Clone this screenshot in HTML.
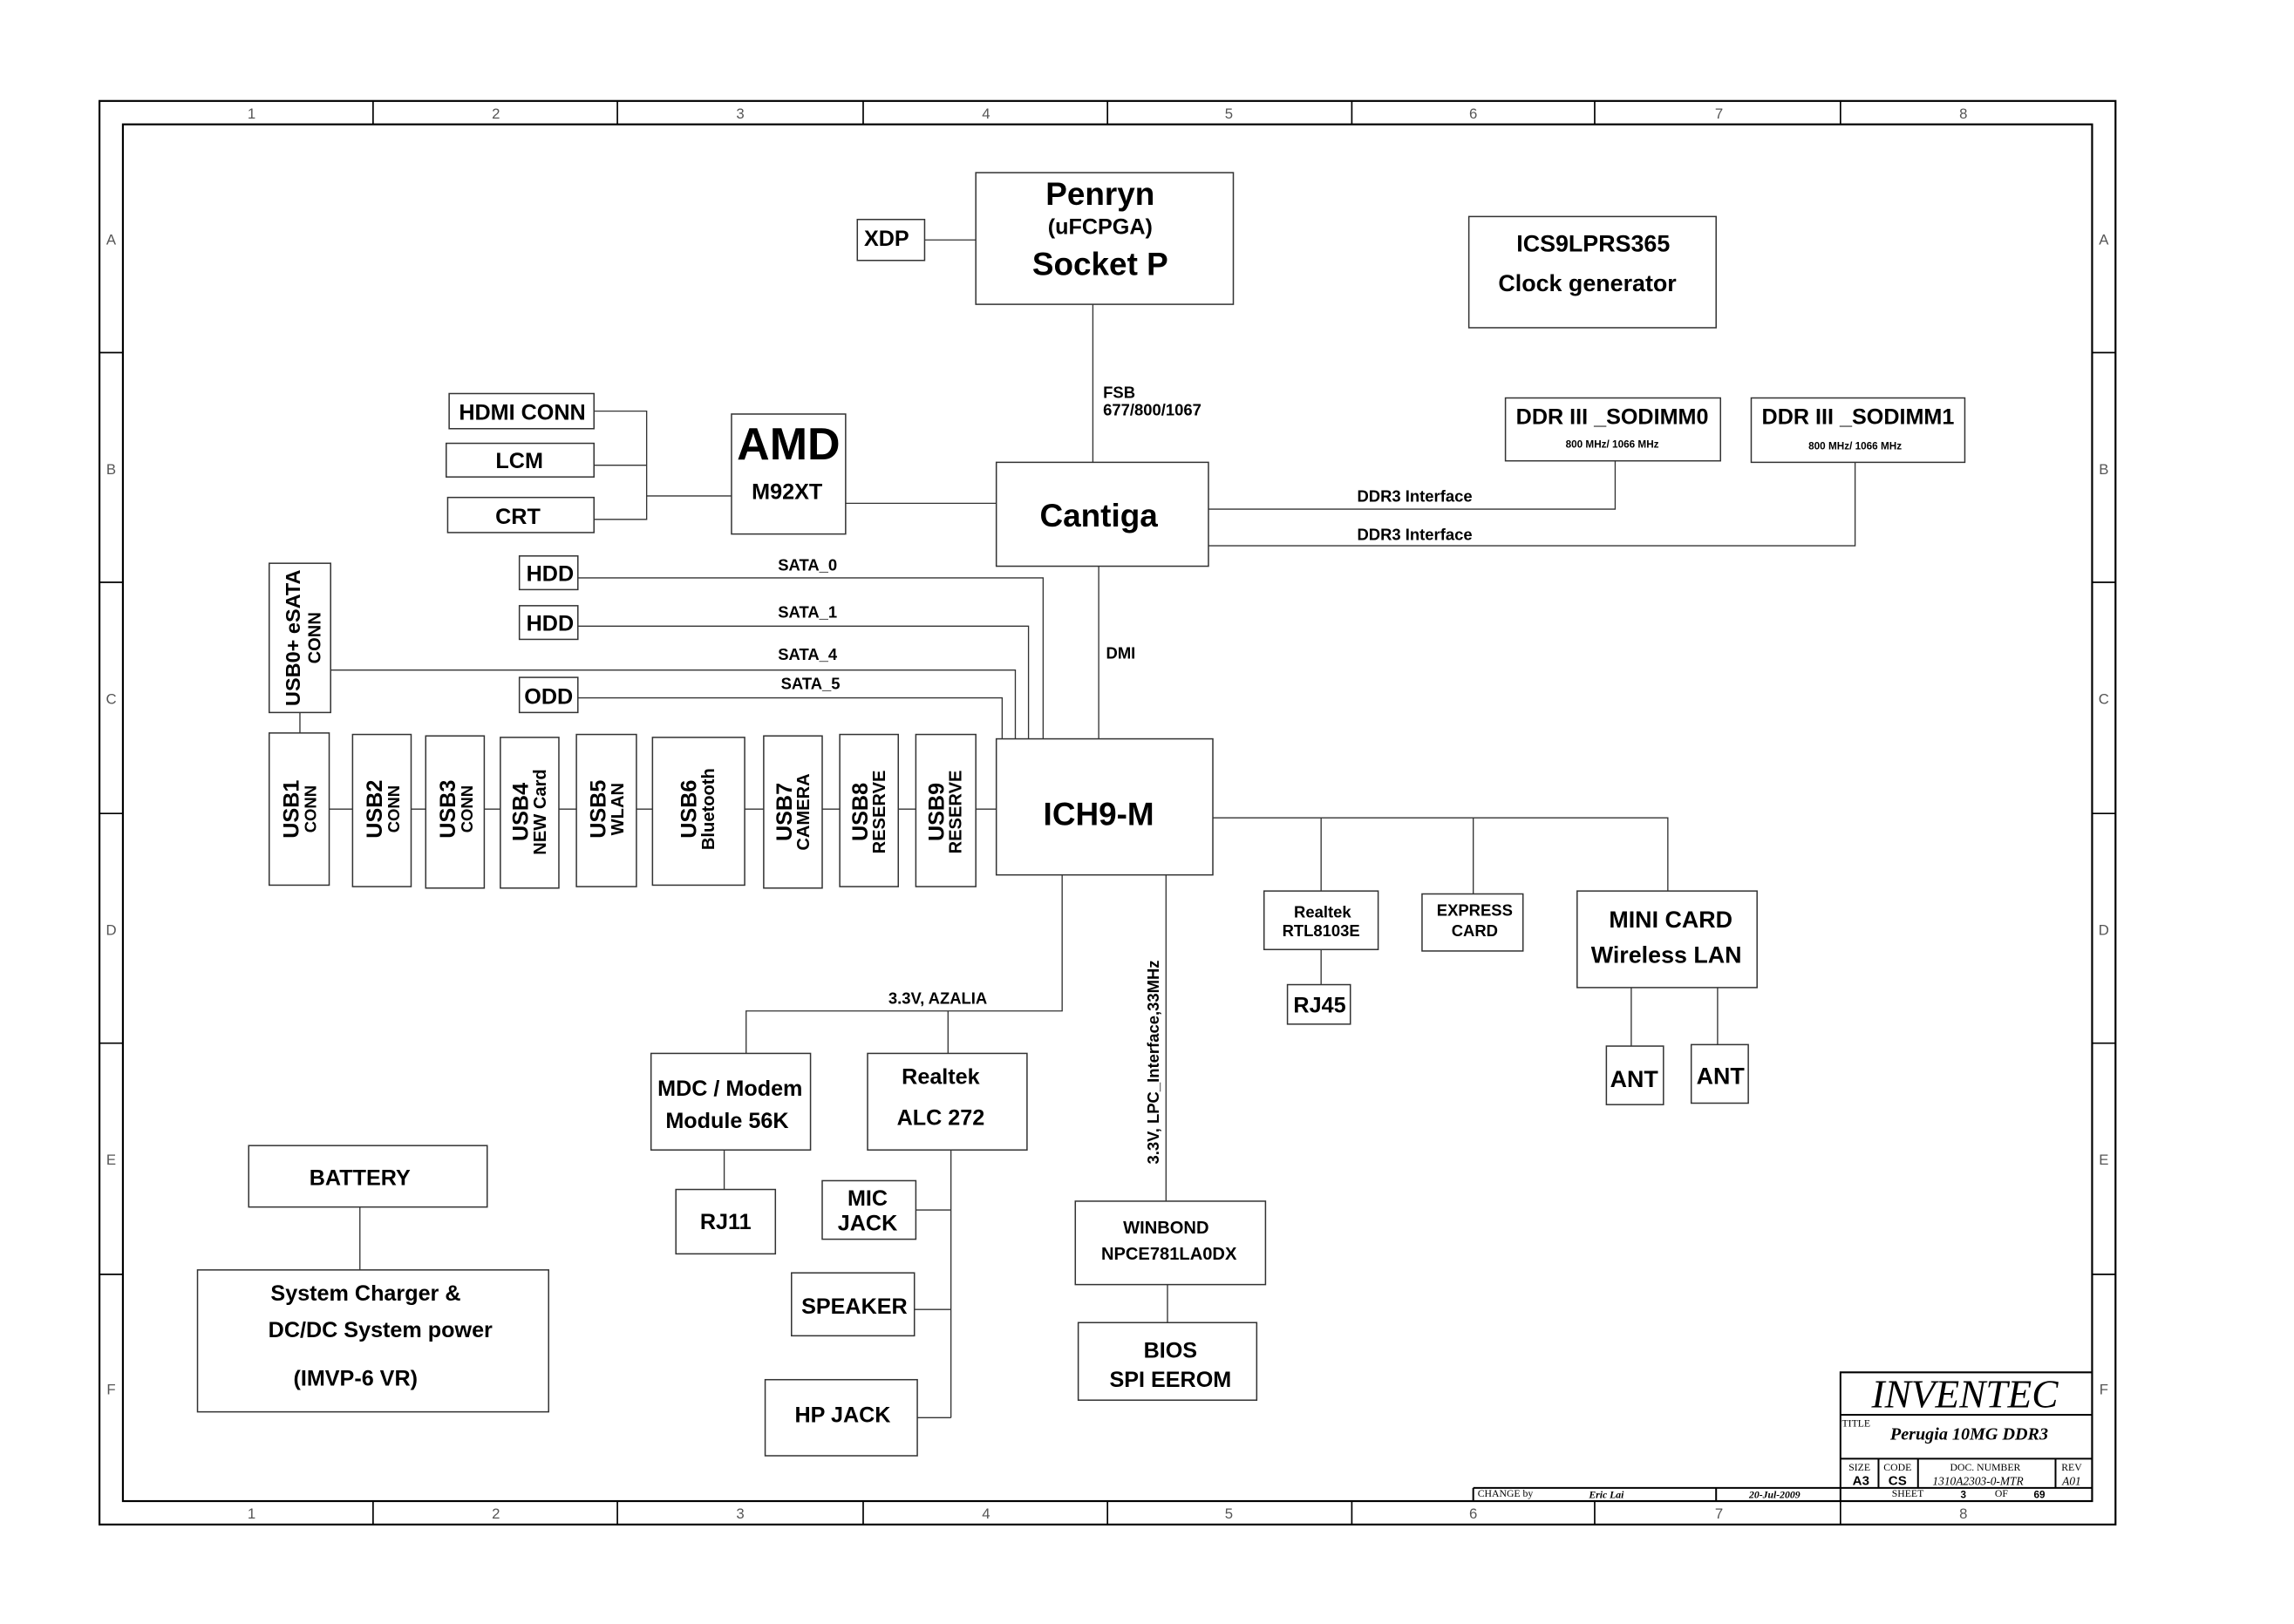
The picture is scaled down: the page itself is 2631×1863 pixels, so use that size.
<!DOCTYPE html>
<html><head><meta charset="utf-8"><style>html,body{margin:0;padding:0;background:#fff}svg{display:block}</style></head>
<body>
<svg width="2631" height="1863" viewBox="0 0 1568 1110" preserveAspectRatio="none" xmlns="http://www.w3.org/2000/svg" font-family="Liberation Sans, Arial, sans-serif">
<rect width="1568" height="1110" fill="#fff"/>
<g fill="none" stroke="#000">
<rect x="68" y="69" width="1378" height="973" stroke-width="1.3"/>
<rect x="84" y="85" width="1346" height="941" stroke-width="1.3"/>
<g stroke-width="1">
<line x1="255" y1="69" x2="255" y2="85"/><line x1="422" y1="69" x2="422" y2="85"/><line x1="590" y1="69" x2="590" y2="85"/><line x1="757" y1="69" x2="757" y2="85"/><line x1="924" y1="69" x2="924" y2="85"/><line x1="1090" y1="69" x2="1090" y2="85"/><line x1="1258" y1="69" x2="1258" y2="85"/>
<line x1="255" y1="1026" x2="255" y2="1042"/><line x1="422" y1="1026" x2="422" y2="1042"/><line x1="590" y1="1026" x2="590" y2="1042"/><line x1="757" y1="1026" x2="757" y2="1042"/><line x1="924" y1="1026" x2="924" y2="1042"/><line x1="1090" y1="1026" x2="1090" y2="1042"/><line x1="1258" y1="1026" x2="1258" y2="1042"/>
<line x1="68" y1="241" x2="84" y2="241"/><line x1="68" y1="398" x2="84" y2="398"/><line x1="68" y1="556" x2="84" y2="556"/><line x1="68" y1="713" x2="84" y2="713"/><line x1="68" y1="871" x2="84" y2="871"/>
<line x1="1430" y1="241" x2="1446" y2="241"/><line x1="1430" y1="398" x2="1446" y2="398"/><line x1="1430" y1="556" x2="1446" y2="556"/><line x1="1430" y1="713" x2="1446" y2="713"/><line x1="1430" y1="871" x2="1446" y2="871"/>
</g>
</g>
<g font-size="10" fill="#555" text-anchor="middle" font-weight="normal">
<text x="172" y="81">1</text><text x="339" y="81">2</text><text x="506" y="81">3</text><text x="674" y="81">4</text><text x="840" y="81">5</text><text x="1007" y="81">6</text><text x="1175" y="81">7</text><text x="1342" y="81">8</text>
<text x="172" y="1038">1</text><text x="339" y="1038">2</text><text x="506" y="1038">3</text><text x="674" y="1038">4</text><text x="840" y="1038">5</text><text x="1007" y="1038">6</text><text x="1175" y="1038">7</text><text x="1342" y="1038">8</text>
<text x="76" y="167">A</text><text x="76" y="324">B</text><text x="76" y="481">C</text><text x="76" y="639">D</text><text x="76" y="796">E</text><text x="76" y="953">F</text>
<text x="1438" y="167">A</text><text x="1438" y="324">B</text><text x="1438" y="481">C</text><text x="1438" y="639">D</text><text x="1438" y="796">E</text><text x="1438" y="953">F</text>
</g>

<g fill="none" stroke="#333" stroke-width="0.8">
<line x1="632" y1="164" x2="667" y2="164"/>
<line x1="747" y1="208" x2="747" y2="316"/>
<polyline points="826,348 1104,348 1104,315"/>
<polyline points="826,373 1268,373 1268,316"/>
<line x1="578" y1="344" x2="681" y2="344"/>
<polyline points="406,281 442,281 442,355 406,355"/>
<line x1="406" y1="318" x2="442" y2="318"/>
<line x1="442" y1="339" x2="500" y2="339"/>
<polyline points="395,395 713,395 713,505"/>
<polyline points="395,428 703,428 703,505"/>
<polyline points="226,458 694,458 694,505"/>
<polyline points="395,477 685,477 685,505"/>
<line x1="205" y1="487" x2="205" y2="501"/>
<line x1="225" y1="553" x2="681" y2="553"/>
<line x1="751" y1="387" x2="751" y2="505"/>
<polyline points="829,559 1140,559 1140,609"/>
<line x1="903" y1="559" x2="903" y2="609"/>
<line x1="1007" y1="559" x2="1007" y2="611"/>
<line x1="903" y1="649" x2="903" y2="673"/>
<line x1="1115" y1="675" x2="1115" y2="715"/>
<line x1="1174" y1="675" x2="1174" y2="714"/>
<polyline points="726,598 726,691 510,691 510,720"/>
<line x1="648" y1="691" x2="648" y2="720"/>
<line x1="495" y1="786" x2="495" y2="813"/>
<line x1="650" y1="786" x2="650" y2="969"/>
<line x1="626" y1="827" x2="650" y2="827"/>
<line x1="625" y1="895" x2="650" y2="895"/>
<line x1="627" y1="969" x2="650" y2="969"/>
<line x1="797" y1="598" x2="797" y2="821"/>
<line x1="798" y1="878" x2="798" y2="904"/>
<line x1="246" y1="825" x2="246" y2="868"/>
</g>
<g fill="#fff" stroke="#333" stroke-width="0.9">
<rect x="667" y="118" width="176" height="90"/>
<rect x="586" y="150" width="46" height="28"/>
<rect x="1004" y="148" width="169" height="76"/>
<rect x="1029" y="272" width="147" height="43"/>
<rect x="1197" y="272" width="146" height="44"/>
<rect x="681" y="316" width="145" height="71"/>
<rect x="500" y="283" width="78" height="82"/>
<rect x="307" y="269" width="99" height="24"/>
<rect x="305" y="303" width="101" height="23"/>
<rect x="306" y="340" width="100" height="24"/>
<rect x="355" y="380" width="40" height="23"/>
<rect x="355" y="414" width="40" height="23"/>
<rect x="355" y="463" width="40" height="24"/>
<rect x="184" y="385" width="42" height="102"/>
<rect x="184" y="501" width="41" height="104"/>
<rect x="241" y="502" width="40" height="104"/>
<rect x="291" y="503" width="40" height="104"/>
<rect x="342" y="504" width="40" height="103"/>
<rect x="394" y="502" width="41" height="104"/>
<rect x="446" y="504" width="63" height="101"/>
<rect x="522" y="503" width="40" height="104"/>
<rect x="574" y="502" width="40" height="104"/>
<rect x="626" y="502" width="41" height="104"/>
<rect x="681" y="505" width="148" height="93"/>
<rect x="864" y="609" width="78" height="40"/>
<rect x="880" y="673" width="43" height="27"/>
<rect x="972" y="611" width="69" height="39"/>
<rect x="1078" y="609" width="123" height="66"/>
<rect x="1098" y="715" width="39" height="40"/>
<rect x="1156" y="714" width="39" height="40"/>
<rect x="445" y="720" width="109" height="66"/>
<rect x="462" y="813" width="68" height="44"/>
<rect x="593" y="720" width="109" height="66"/>
<rect x="562" y="807" width="64" height="40"/>
<rect x="541" y="870" width="84" height="43"/>
<rect x="523" y="943" width="104" height="52"/>
<rect x="735" y="821" width="130" height="57"/>
<rect x="737" y="904" width="122" height="53"/>
<rect x="170" y="783" width="163" height="42"/>
<rect x="135" y="868" width="240" height="97"/>
</g>

<g font-weight="bold" text-anchor="middle" fill="#000">
<text x="752" y="140" font-size="22">Penryn</text>
<text x="752" y="160" font-size="15">(uFCPGA)</text>
<text x="752" y="188" font-size="22">Socket P</text>
<text x="606" y="168" font-size="15">XDP</text>
<text x="1089" y="172" font-size="16">ICS9LPRS365</text>
<text x="1085" y="199" font-size="16">Clock generator</text>
<text x="1102" y="290" font-size="15">DDR III _SODIMM0</text>
<text x="1102" y="306" font-size="7">800 MHz/ 1066 MHz</text>
<text x="1270" y="290" font-size="15">DDR III _SODIMM1</text>
<text x="1268" y="307" font-size="7">800 MHz/ 1066 MHz</text>
<text x="751" y="360" font-size="22">Cantiga</text>
<text x="539" y="314" font-size="31">AMD</text>
<text x="538" y="341" font-size="15">M92XT</text>
<text x="357" y="287" font-size="15">HDMI CONN</text>
<text x="355" y="320" font-size="15">LCM</text>
<text x="354" y="358" font-size="15">CRT</text>
<text x="376" y="397" font-size="15">HDD</text>
<text x="376" y="431" font-size="15">HDD</text>
<text x="375" y="481" font-size="15">ODD</text>
<text x="751" y="564" font-size="22">ICH9-M</text>
<text x="904" y="627" font-size="11">Realtek</text>
<text x="903" y="640" font-size="11">RTL8103E</text>
<text x="902" y="692" font-size="15">RJ45</text>
<text x="1008" y="626" font-size="11">EXPRESS</text>
<text x="1008" y="640" font-size="11">CARD</text>
<text x="1142" y="634" font-size="16">MINI CARD</text>
<text x="1139" y="658" font-size="16">Wireless LAN</text>
<text x="1117" y="743" font-size="16">ANT</text>
<text x="1176" y="741" font-size="16">ANT</text>
<text x="499" y="749" font-size="15">MDC / Modem</text>
<text x="497" y="771" font-size="15">Module 56K</text>
<text x="496" y="840" font-size="15">RJ11</text>
<text x="643" y="741" font-size="15">Realtek</text>
<text x="643" y="769" font-size="15">ALC 272</text>
<text x="593" y="824" font-size="15">MIC</text>
<text x="593" y="841" font-size="15">JACK</text>
<text x="584" y="898" font-size="15">SPEAKER</text>
<text x="576" y="972" font-size="15">HP JACK</text>
<text x="797" y="843" font-size="12">WINBOND</text>
<text x="799" y="861" font-size="12">NPCE781LA0DX</text>
<text x="800" y="928" font-size="15">BIOS</text>
<text x="800" y="948" font-size="15">SPI EEROM</text>
<text x="246" y="810" font-size="15">BATTERY</text>
<text x="250" y="889" font-size="15">System Charger &amp;</text>
<text x="260" y="914" font-size="15">DC/DC System power</text>
<text x="243" y="947" font-size="15">(IMVP-6   VR)</text>
</g>
<g font-weight="bold" fill="#000" font-size="11">
<text x="754" y="272">FSB</text>
<text x="754" y="284">677/800/1067</text>
<text x="967" y="343" text-anchor="middle">DDR3 Interface</text>
<text x="967" y="369" text-anchor="middle">DDR3 Interface</text>
<text x="552" y="390" text-anchor="middle">SATA_0</text>
<text x="552" y="422" text-anchor="middle">SATA_1</text>
<text x="552" y="451" text-anchor="middle">SATA_4</text>
<text x="554" y="471" text-anchor="middle">SATA_5</text>
<text x="756" y="450">DMI</text>
<text x="641" y="686" text-anchor="middle">3.3V, AZALIA</text>
<text transform="translate(792,726) rotate(-90)" text-anchor="middle">3.3V, LPC_Interface,33MHz</text>
</g>
<g font-weight="bold" fill="#000" text-anchor="middle">
<text transform="translate(205,436) rotate(-90)"><tspan x="0" y="0" font-size="14">USB0+ eSATA</tspan><tspan x="0" y="14" font-size="12">CONN</tspan></text>
<text transform="translate(204,553) rotate(-90)"><tspan x="0" y="0" font-size="15">USB1</tspan><tspan x="0" y="12" font-size="11">CONN</tspan></text>
<text transform="translate(261,553) rotate(-90)"><tspan x="0" y="0" font-size="15">USB2</tspan><tspan x="0" y="12" font-size="11">CONN</tspan></text>
<text transform="translate(311,553) rotate(-90)"><tspan x="0" y="0" font-size="15">USB3</tspan><tspan x="0" y="12" font-size="11">CONN</tspan></text>
<text transform="translate(361,555) rotate(-90)"><tspan x="0" y="0" font-size="15">USB4</tspan><tspan x="0" y="12" font-size="12">NEW Card</tspan></text>
<text transform="translate(414,553) rotate(-90)"><tspan x="0" y="0" font-size="15">USB5</tspan><tspan x="0" y="12" font-size="12">WLAN</tspan></text>
<text transform="translate(476,553) rotate(-90)"><tspan x="0" y="0" font-size="15">USB6</tspan><tspan x="0" y="12" font-size="12">Bluetooth</tspan></text>
<text transform="translate(541,555) rotate(-90)"><tspan x="0" y="0" font-size="15">USB7</tspan><tspan x="0" y="12" font-size="12">CAMERA</tspan></text>
<text transform="translate(593,555) rotate(-90)"><tspan x="0" y="0" font-size="15">USB8</tspan><tspan x="0" y="12" font-size="12">RESERVE</tspan></text>
<text transform="translate(645,555) rotate(-90)"><tspan x="0" y="0" font-size="15">USB9</tspan><tspan x="0" y="12" font-size="12">RESERVE</tspan></text>
</g>

<g fill="none" stroke="#000" stroke-width="1.2">
<polyline points="1258,1026 1258,938 1430,938"/>
<line x1="1258" y1="967" x2="1430" y2="967"/>
<line x1="1258" y1="997" x2="1430" y2="997"/>
<line x1="1258" y1="1017" x2="1430" y2="1017"/>
<line x1="1007" y1="1017" x2="1258" y2="1017"/>
<line x1="1007" y1="1017" x2="1007" y2="1026"/>
<line x1="1173" y1="1017" x2="1173" y2="1026"/>
<line x1="1284" y1="997" x2="1284" y2="1017"/>
<line x1="1311" y1="997" x2="1311" y2="1017"/>
<line x1="1405" y1="997" x2="1405" y2="1017"/>
</g>
<g font-family="Liberation Serif, serif" fill="#000">
<text x="1343" y="962" font-size="27" font-style="italic" text-anchor="middle">INVENTEC</text>
<text x="1259" y="975" font-size="7">TITLE</text>
<text x="1346" y="984" font-size="12" font-style="italic" font-weight="bold" text-anchor="middle">Perugia 10MG DDR3</text>
<text x="1271" y="1005" font-size="7" text-anchor="middle">SIZE</text>
<text x="1297" y="1005" font-size="7" text-anchor="middle">CODE</text>
<text x="1357" y="1005" font-size="7" text-anchor="middle">DOC. NUMBER</text>
<text x="1416" y="1005" font-size="7" text-anchor="middle">REV</text>
<text x="1272" y="1015" font-size="9" font-weight="bold" font-family="Liberation Sans, sans-serif" text-anchor="middle">A3</text>
<text x="1297" y="1015" font-size="9" font-weight="bold" font-family="Liberation Sans, sans-serif" text-anchor="middle">CS</text>
<text x="1352" y="1015" font-size="8" font-style="italic" text-anchor="middle">1310A2303-0-MTR</text>
<text x="1416" y="1015" font-size="8" font-style="italic" text-anchor="middle">A01</text>
<text x="1010" y="1023" font-size="7">CHANGE by</text>
<text x="1098" y="1024" font-size="7" font-style="italic" font-weight="bold" text-anchor="middle">Eric Lai</text>
<text x="1213" y="1024" font-size="7" font-style="italic" font-weight="bold" text-anchor="middle">20-Jul-2009</text>
<text x="1304" y="1023" font-size="7" text-anchor="middle">SHEET</text>
<text x="1342" y="1024" font-size="7" font-weight="bold" font-family="Liberation Sans, sans-serif" text-anchor="middle">3</text>
<text x="1368" y="1023" font-size="7" text-anchor="middle">OF</text>
<text x="1394" y="1024" font-size="7" font-weight="bold" font-family="Liberation Sans, sans-serif" text-anchor="middle">69</text>
</g>
</svg>
</body></html>
